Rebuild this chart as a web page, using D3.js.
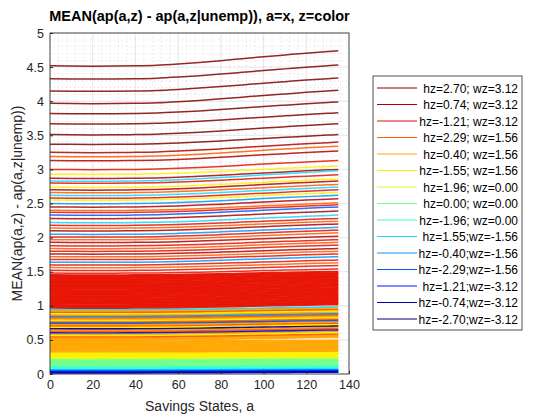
<!DOCTYPE html>
<html>
<head>
<meta charset="utf-8">
<script src="https://cdn.jsdelivr.net/npm/d3@7"></script>
<style>
  body { margin: 0; background: #fff; }
  text { font-family: "Liberation Sans", Arial, sans-serif; }
</style>
</head>
<body>
<script>
// legend entries (z states) and their colours
var legendLabels = ["hz=2.70; wz=3.12", "hz=0.74; wz=3.12", "hz=-1.21; wz=3.12",
  "hz=2.29; wz=1.56", "hz=0.40; wz=1.56", "hz=-1.55; wz=1.56",
  "hz=1.96; wz=0.00", "hz=0.00; wz=0.00", "hz=-1.96; wz=0.00",
  "hz=1.55;wz=-1.56", "hz=-0.40;wz=-1.56", "hz=-2.29;wz=-1.56",
  "hz=1.21;wz=-3.12", "hz=-0.74;wz=-3.12", "hz=-2.70;wz=-3.12"];
var zColors = ["#800000", "#b00000", "#e81000", "#ff5a00", "#ffa500", "#fff000",
  "#c8ff38", "#70ff88", "#30ffd0", "#10d8ff", "#0098ff", "#0058ff",
  "#0018ff", "#0000b8", "#000070"];

// savings grid and the common shape of the rise toward high savings
var aGrid = [0, 10, 20, 30, 40, 50, 60, 70, 80, 90, 100, 110, 120, 130, 135];
var riseShape = [0, -0.02, -0.03, -0.02, 0, 0.04, 0.12, 0.22, 0.34, 0.47, 0.6, 0.72, 0.84, 0.95, 1.0];

// upper curves: start value, colour index, rise at a=135
var topBase = [4.52, 4.33, 4.15, 3.97, 3.82, 3.67, 3.51, 3.37, 3.25, 3.19, 3.13, 3.00, 2.93, 2.87,
  2.83, 2.80, 2.74, 2.70, 2.66, 2.62, 2.58, 2.55, 2.50, 2.45, 2.40, 2.37, 2.33, 2.28, 2.22, 2.18,
  2.14, 2.10, 2.05, 2.01, 1.97, 1.93, 1.88, 1.84, 1.80, 1.76, 1.72, 1.68, 1.64, 1.60, 1.56, 1.52, 1.48];
var topColor = [0, 0, 0, 0, 0, 0, 0, 0, 1, 3, 1, 2, 5, 1, 9, 2, 5, 1, 3, 9, 2, 5, 10, 1, 3, 2,
  11, 1, 9, 2, 3, 1, 10, 2, 3, 1, 2, 3, 2, 1, 3, 2, 10, 2, 3, 2, 2];
var topRise = [0.22, 0.2, 0.19, 0.19, 0.17, 0.16, 0.16, 0.14, 0.15, 0.15, 0.14, 0.13, 0.12, 0.13,
  0.15, 0.12, 0.12, 0.13, 0.12, 0.12, 0.12, 0.11, 0.12, 0.12, 0.11, 0.11, 0.12, 0.11, 0.11, 0.1,
  0.1, 0.1, 0.1, 0.1, 0.1, 0.09, 0.09, 0.09, 0.09, 0.08, 0.08, 0.08, 0.08, 0.07, 0.07, 0.07, 0.06];

// dense red band
var redBase = [1.45, 1.43, 1.41, 1.39, 1.37, 1.35, 1.33, 1.31, 1.29, 1.27, 1.25, 1.23, 1.21, 1.19,
  1.17, 1.15, 1.13, 1.11, 1.09, 1.07, 1.05, 1.03, 1.01, 0.99, 0.97];
var redRise = 0.05;

// middle orange / yellow band with some cool lines
var midBase = [0.94, 0.92, 0.9, 0.88, 0.86, 0.84, 0.82, 0.8, 0.78, 0.76, 0.74, 0.72, 0.7, 0.68,
  0.66, 0.64, 0.62, 0.6, 0.58, 0.56, 0.54, 0.52, 0.5];
var midColor = [9, 4, 3, 5, 4, 10, 3, 4, 5, 3, 11, 4, 3, 5, 13, 4, 3, 12, 4, 5, 3, 4, 4];
var midRise = 0.04;

// low dense band
var lowBase = [0.48, 0.46, 0.44, 0.42, 0.4, 0.38, 0.36, 0.34, 0.32, 0.3, 0.28, 0.26, 0.24, 0.22,
  0.2, 0.18, 0.16, 0.14, 0.12, 0.1, 0.08, 0.06, 0.05, 0.04, 0.03, 0.02];
var lowColor = [4, 4, 4, 4, 4, 4, 4, 4, 4, 5, 5, 5, 5, 6, 7, 7, 7, 7, 7, 8, 8, 9, 10, 11, 12, 13];
var lowRise = 0.01;

var xTicks = [0, 20, 40, 60, 80, 100, 120, 140];
var yTicks = [0, 0.5, 1, 1.5, 2, 2.5, 3, 3.5, 4, 4.5, 5];

var W = 560, H = 420;
var L = 50, R = 349, T = 33, B = 374;

var svg = d3.select("body").append("svg").attr("width", W).attr("height", H);
var x = d3.scaleLinear().domain([0, 140]).range([L, R]);
var y = d3.scaleLinear().domain([0, 5]).range([B, T]);

// grid
var minorX = d3.range(0, 141, 4), minorY = d3.range(0, 5.01, 0.1);
var grid = svg.append("g");
grid.selectAll(".mx").data(minorX).enter().append("line")
  .attr("x1", d => x(d)).attr("x2", d => x(d)).attr("y1", T).attr("y2", B)
  .attr("stroke", "#c8c8c8").attr("stroke-width", 0.6).attr("stroke-dasharray", "1,3");
grid.selectAll(".my").data(minorY).enter().append("line")
  .attr("y1", d => y(d)).attr("y2", d => y(d)).attr("x1", L).attr("x2", R)
  .attr("stroke", "#c8c8c8").attr("stroke-width", 0.6).attr("stroke-dasharray", "1,3");
grid.selectAll(".gx").data(xTicks).enter().append("line")
  .attr("x1", d => x(d)).attr("x2", d => x(d)).attr("y1", T).attr("y2", B)
  .attr("stroke", "#e2e2e2").attr("stroke-width", 0.8);
grid.selectAll(".gy").data(yTicks).enter().append("line")
  .attr("y1", d => y(d)).attr("y2", d => y(d)).attr("x1", L).attr("x2", R)
  .attr("stroke", "#e2e2e2").attr("stroke-width", 0.8);

// build curves
var curves = [];
lowBase.forEach((b, i) => curves.push({ base: b, rise: lowRise, c: lowColor[i] }));
midBase.forEach((b, i) => curves.push({ base: b, rise: midRise, c: midColor[i] }));
redBase.forEach(b => curves.push({ base: b, rise: redRise, c: 2 }));
topBase.forEach((b, i) => curves.push({ base: b, rise: topRise[i], c: topColor[i] }));

var line = d3.line().curve(d3.curveMonotoneX).x(d => x(d[0])).y(d => y(d[1]));
svg.append("g").selectAll("path").data(curves).enter().append("path")
  .attr("d", c => line(aGrid.map((a, k) => [a, c.base + c.rise * riseShape[k]])))
  .attr("fill", "none")
  .attr("stroke", c => zColors[c.c])
  .attr("stroke-width", c => c.base < 1.46 ? 2 : 1.5)
  .attr("stroke-opacity", c => c.base < 1.46 ? 0.95 : 0.85);

// axes
var xAxis = svg.append("g").attr("transform", "translate(0," + B + ")")
  .call(d3.axisBottom(x).tickValues(xTicks).tickSize(-3).tickPadding(6));
var yAxis = svg.append("g").attr("transform", "translate(" + L + ",0)")
  .call(d3.axisLeft(y).tickValues(yTicks).tickSize(-3).tickPadding(6).tickFormat(d3.format("")));
[xAxis, yAxis].forEach(g => {
  g.select(".domain").remove();
  g.selectAll("line").attr("stroke", "#262626");
  g.selectAll("text").attr("font-size", 12.5).attr("fill", "#262626")
    .attr("font-family", "Liberation Sans, Arial, sans-serif");
});
svg.append("rect").attr("x", L).attr("y", T).attr("width", R - L).attr("height", B - T)
  .attr("fill", "none").attr("stroke", "#262626").attr("stroke-width", 0.8);

svg.append("text").attr("x", (L + R) / 2).attr("y", 21).attr("text-anchor", "middle")
  .attr("font-size", 14.5).attr("font-weight", "bold").attr("fill", "#000")
  .text("MEAN(ap(a,z) - ap(a,z|unemp)), a=x, z=color");
svg.append("text").attr("x", (L + R) / 2).attr("y", 411).attr("text-anchor", "middle")
  .attr("font-size", 14).attr("fill", "#262626").text("Savings States, a");
svg.append("text").attr("transform", "translate(22," + ((T + B) / 2) + ") rotate(-90)")
  .attr("text-anchor", "middle").attr("font-size", 14).attr("fill", "#262626")
  .text("MEAN(ap(a,z) - ap(a,z|unemp))");

// legend
var lg = svg.append("g");
lg.append("rect").attr("x", 373).attr("y", 76).attr("width", 149).attr("height", 254)
  .attr("fill", "#fff").attr("stroke", "#262626").attr("stroke-width", 0.8);
var rows = lg.selectAll(".row").data(legendLabels).enter().append("g")
  .attr("transform", (d, i) => "translate(0," + (88 + i * 16.5) + ")");
rows.append("line").attr("x1", 377).attr("x2", 417)
  .attr("stroke", (d, i) => zColors[i]).attr("stroke-width", 1);
rows.append("text").attr("x", 518).attr("y", 4.5).attr("text-anchor", "end")
  .attr("font-size", 12).attr("fill", "#000").text(d => d);
</script>
</body>
</html>
